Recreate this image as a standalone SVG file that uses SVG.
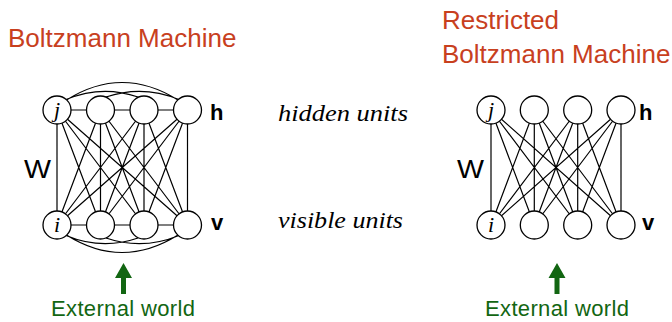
<svg xmlns="http://www.w3.org/2000/svg" width="672" height="322" viewBox="0 0 672 322">
<style>
.title{font-family:"Liberation Sans",Arial,sans-serif;font-size:26px;fill:#c8401e}
.ext{font-family:"Liberation Sans",Arial,sans-serif;font-size:22px;fill:#126612}
.lab{font-family:"Liberation Sans",Arial,sans-serif;font-size:22px;font-weight:bold;fill:#000}
.w{font-family:"Liberation Sans",Arial,sans-serif;font-size:26px;fill:#000}
.it{font-family:"Liberation Serif","Times New Roman",serif;font-style:italic;font-size:24px;fill:#000}
.nl{font-family:"Liberation Serif","Times New Roman",serif;font-style:italic;font-size:22px;fill:#000;text-anchor:middle}
.e{stroke:#000;stroke-width:1.2;fill:none}
.n{stroke:#000;stroke-width:1.3;fill:#fff}
.arr{fill:#126612}
</style>
<rect width="672" height="322" fill="#fff"/>
<g id="titles">
<text class="title" x="8" y="47">Boltzmann Machine</text>
<text class="title" x="442" y="29">Restricted</text>
<text class="title" x="442" y="63">Boltzmann Machine</text>
</g>
<g id="connectors">
<path class="e" d="M57,110L57,225M57,110L100.5,225M57,110L144,225M57,110L187.5,225
M100.5,110L57,225M100.5,110L100.5,225M100.5,110L144,225M100.5,110L187.5,225
M144,110L57,225M144,110L100.5,225M144,110L144,225M144,110L187.5,225
M187.5,110L57,225M187.5,110L100.5,225M187.5,110L144,225M187.5,110L187.5,225"/>
<path class="e" d="M57,110L187.5,110M57,225L187.5,225"/>
<path class="e" d="M66.5,100Q122,65 178,100M66,99.5Q102,84.5 138,97M106,97Q142.5,84.5 179,99.5"/>
<path class="e" d="M66.5,235Q122,270 178,235M66,235.5Q102,250.5 138,238M106,238Q142.5,250.5 179,235.5"/>
<path class="e" d="M491,110L491,225M491,110L534.3,225M491,110L577.7,225M491,110L621,225
M534.3,110L491,225M534.3,110L534.3,225M534.3,110L577.7,225M534.3,110L621,225
M577.7,110L491,225M577.7,110L534.3,225M577.7,110L577.7,225M577.7,110L621,225
M621,110L491,225M621,110L534.3,225M621,110L577.7,225M621,110L621,225"/>
</g>
<g id="bm-h1"><circle class="n" cx="57" cy="110" r="14"/><text class="nl" x="57" y="117">j</text></g>
<g id="bm-h2"><circle class="n" cx="100.5" cy="110" r="14"/></g>
<g id="bm-h3"><circle class="n" cx="144" cy="110" r="14"/></g>
<g id="bm-h4"><circle class="n" cx="187.5" cy="110" r="14"/></g>
<g id="bm-v1"><circle class="n" cx="57" cy="225" r="14"/><text class="nl" x="57" y="232">i</text></g>
<g id="bm-v2"><circle class="n" cx="100.5" cy="225" r="14"/></g>
<g id="bm-v3"><circle class="n" cx="144" cy="225" r="14"/></g>
<g id="bm-v4"><circle class="n" cx="187.5" cy="225" r="14"/></g>
<g id="rbm-h1"><circle class="n" cx="491" cy="110" r="14"/><text class="nl" x="491" y="117">j</text></g>
<g id="rbm-h2"><circle class="n" cx="534.3" cy="110" r="14"/></g>
<g id="rbm-h3"><circle class="n" cx="577.7" cy="110" r="14"/></g>
<g id="rbm-h4"><circle class="n" cx="621" cy="110" r="14"/></g>
<g id="rbm-v1"><circle class="n" cx="491" cy="225" r="14"/><text class="nl" x="491" y="232">i</text></g>
<g id="rbm-v2"><circle class="n" cx="534.3" cy="225" r="14"/></g>
<g id="rbm-v3"><circle class="n" cx="577.7" cy="225" r="14"/></g>
<g id="rbm-v4"><circle class="n" cx="621" cy="225" r="14"/></g>
<g id="labels">
<text class="lab" x="210" y="120">h</text>
<text class="lab" x="211" y="230">v</text>
<text class="lab" x="639" y="120">h</text>
<text class="lab" x="642" y="230">v</text>
<text class="w" x="24" y="178" textLength="27" lengthAdjust="spacingAndGlyphs">W</text>
<text class="w" x="457" y="178" textLength="27" lengthAdjust="spacingAndGlyphs">W</text>
<text class="it" x="278" y="121" textLength="130" lengthAdjust="spacingAndGlyphs">hidden units</text>
<text class="it" x="278" y="228" textLength="125" lengthAdjust="spacingAndGlyphs">visible units</text>
</g>
<g id="ext-left">
<polygon class="arr" points="123.5,263 132,278 126,278 126,294 121,294 121,278 115,278"/>
<text class="ext" x="51" y="316" textLength="144">External world</text>
</g>
<g id="ext-right">
<polygon class="arr" points="557,263 565.5,278 559.5,278 559.5,294 554.5,294 554.5,278 548.5,278"/>
<text class="ext" x="485" y="316" textLength="144">External world</text>
</g>
</svg>
